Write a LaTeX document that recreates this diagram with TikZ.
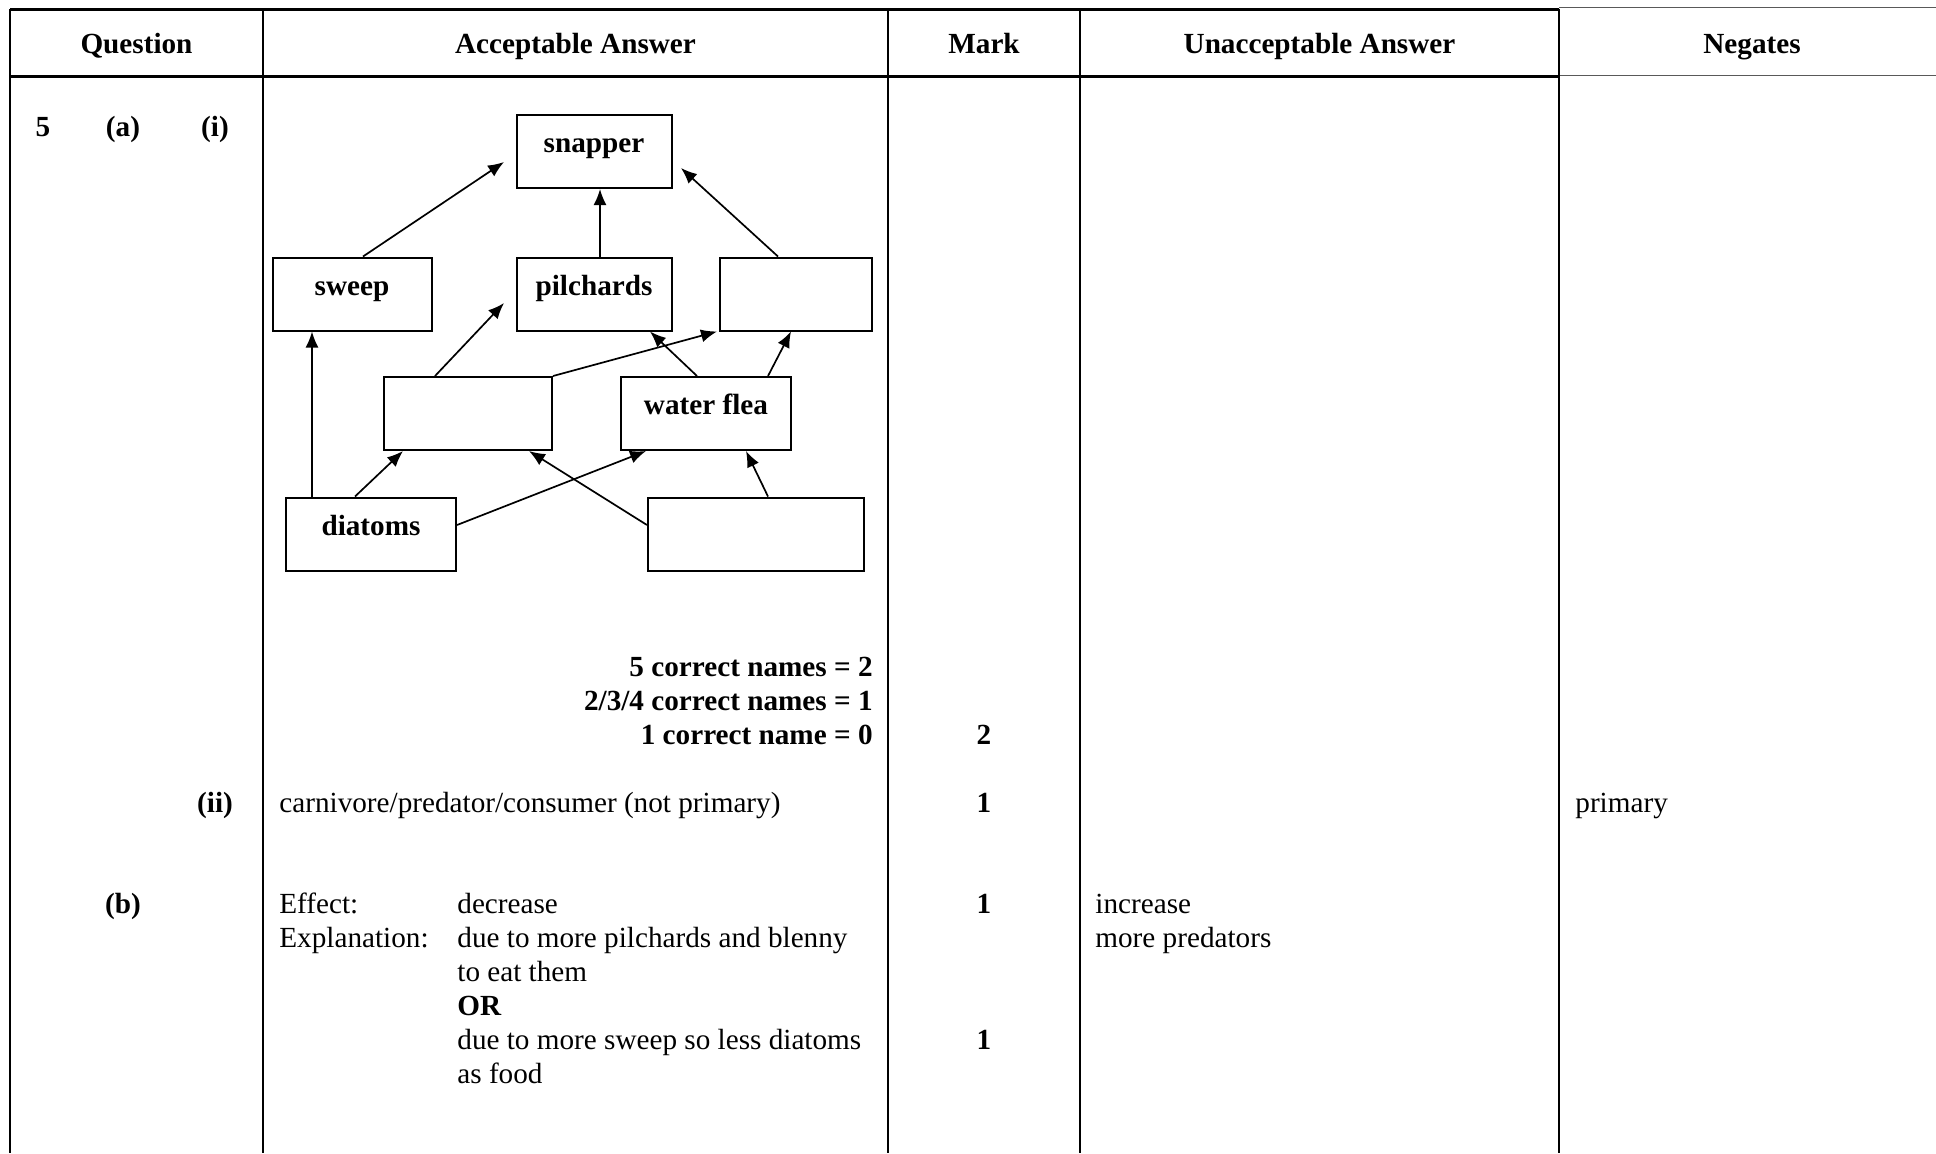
\documentclass[tikz,border=0pt]{standalone}
\usepackage{fontspec}
\setmainfont{Liberation Serif}
\renewcommand{\normalsize}{\fontsize{14.6}{17}\selectfont}
\usetikzlibrary{arrows.meta}
\tikzset{
    web-box/.style = {draw, line width=1pt, rectangle, font=\bfseries, inner xsep=0pt, inner ysep=5pt, text height=13.75pt, text depth=12.75pt},
    feeds/.style = {-{Latex[length=8pt,width=6.5pt]}, line width=0.85pt},
    head-text/.style = {anchor=base, font=\bfseries},
    num-text/.style = {anchor=base, font=\bfseries},
    cell-text/.style = {anchor=base west},
    rule-thick/.style = {line width=1.3pt},
    rule-thin/.style = {line width=0.5pt, draw=black!65},
    rule-vert/.style = {line width=0.9pt},
}

\begin{document}
\begin{tikzpicture}[x=0.5pt, y=-0.5pt, every node/.append style={inner sep=0pt}]
\useasboundingbox (0,0) rectangle (1936,1153);

% table rules
\draw[rule-thick] (10,9.5) -- (1559,9.5);
\draw[rule-thin] (1559,7) -- (1936,7);
\draw[rule-thick] (10,76.5) -- (1559,76.5);
\draw[rule-thin] (1559,75) -- (1936,75);
\foreach \x in {10,263,888,1080,1559}
    \draw[rule-vert] (\x,8.5) -- (\x,1153);

% header
\node[head-text] (h-question) at (136.5,53) {Question};
\node[head-text] (h-accept) at (575.5,53) {Acceptable Answer};
\node[head-text] (h-mark) at (984,53) {Mark};
\node[head-text] (h-unaccept) at (1319.5,53) {Unacceptable Answer};
\node[head-text] (h-negates) at (1752,53) {Negates};

% question numbers
\node[num-text] (q-five) at (43,136) {5};
\node[num-text] (q-a) at (123,136) {(a)};
\node[num-text] (q-i) at (215,136) {(i)};
\node[num-text] (q-ii) at (215,812) {(ii)};
\node[num-text] (q-b) at (123,913) {(b)};

% food web
\node[web-box, minimum width=77.5pt] (snapper) at (594,151.5) {snapper};
\node[web-box, minimum width=79.5pt] (sweep) at (352,294) {sweep};
\node[web-box, minimum width=77.5pt] (pilchards) at (594,294) {pilchards};
\node[web-box, minimum width=76pt] (empty-top) at (796,294) {};
\node[web-box, minimum width=84pt] (empty-mid) at (468,413.5) {};
\node[web-box, minimum width=85pt] (water-flea) at (706,413.5) {water flea};
\node[web-box, minimum width=85pt] (diatoms) at (371,534) {diatoms};
\node[web-box, minimum width=108pt] (empty-low) at (756,534) {};

\draw[feeds] ([xshift=5.5pt]sweep.north) -- ([xshift=-5.75pt, yshift=-5.25pt]snapper.west);
\draw[feeds] ([xshift=3pt]pilchards.north) -- ([xshift=3pt]snapper.south);
\draw[feeds] ([xshift=-9pt]empty-top.north) -- ([xshift=4.25pt, yshift=-8.25pt]snapper.east);
\draw[feeds] ([xshift=-29.5pt]diatoms.north) -- ([xshift=-20pt]sweep.south);
\draw[feeds] ([xshift=-16.5pt]empty-mid.north) -- ([xshift=-5.75pt, yshift=-4.5pt]pilchards.west);
\draw[feeds] (empty-mid.north east) -- ([xshift=-1pt]empty-top.south west);
\draw[feeds] ([xshift=-4.5pt]water-flea.north) -- ([xshift=28pt]pilchards.south);
\draw[feeds] ([xshift=31pt]water-flea.north) -- ([xshift=-2.5pt]empty-top.south);
\draw[feeds] ([xshift=-8pt]diatoms.north) -- ([xshift=-32.5pt]empty-mid.south);
\draw[feeds] ([yshift=4.5pt]diatoms.east) -- ([xshift=-30pt]water-flea.south);
\draw[feeds] ([yshift=4.5pt]empty-low.west) -- ([xshift=30.5pt]empty-mid.south);
\draw[feeds] ([xshift=6pt]empty-low.north) -- ([xshift=20pt]water-flea.south);

% marking scheme
\node[anchor=base east, font=\bfseries] (scheme) at (873,676) {\begin{tabular}[t]{@{}r@{}}
    5 correct names = 2\\
    2/3/4 correct names = 1\\
    1 correct name = 0
\end{tabular}};
\node[num-text] (m-two) at (984,744) {2};

% part (ii)
\node[cell-text] (ans-ii) at (279,812) {carnivore/predator/consumer (not primary)};
\node[num-text] (m-ii) at (984,812) {1};
\node[cell-text] (neg-ii) at (1575,812) {primary};

% part (b)
\node[cell-text] (ans-b) at (279,913) {\begin{tabular}[t]{@{}p{89pt}@{}l@{}}
    Effect: & decrease\\
    Explanation: & due to more pilchards and blenny\\
    & to eat them\\
    & \textbf{OR}\\
    & due to more sweep so less diatoms\\
    & as food
\end{tabular}};
\node[num-text] (m-b1) at (984,913) {1};
\node[num-text] (m-b2) at (984,1049) {1};
\node[cell-text] (unacc-b) at (1095,913) {\begin{tabular}[t]{@{}l@{}}
    increase\\
    more predators
\end{tabular}};
\end{tikzpicture}
\end{document}
